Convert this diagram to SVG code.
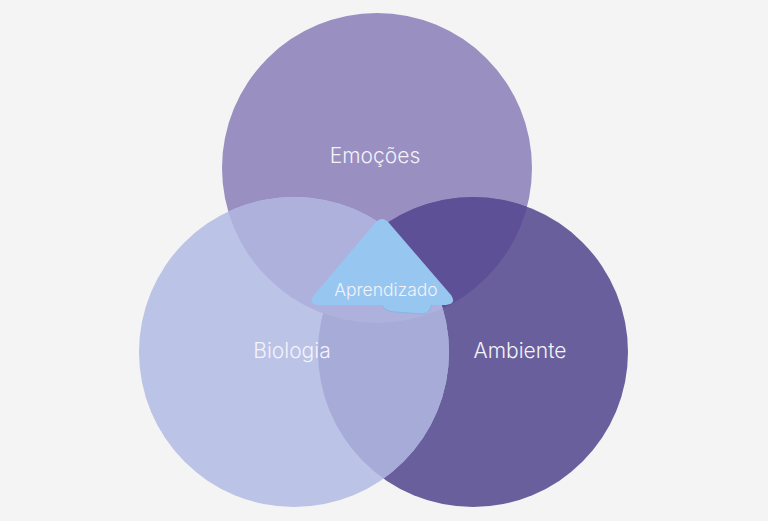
<svg xmlns="http://www.w3.org/2000/svg" width="768" height="521" viewBox="0 0 768 521">
  <defs>
    <clipPath id="clipT"><circle cx="377" cy="168" r="155"/></clipPath>
    <clipPath id="clipR"><circle cx="473" cy="352" r="155"/></clipPath>
    <style>
      .lbl { font-family: Inter, "Liberation Sans", sans-serif; font-weight: 300; fill: #f3f3f9; text-anchor: middle; }
    </style>
  </defs>
  <rect width="768" height="521" fill="#f4f4f4"/>
  <g id="emocoes">
    <circle cx="377" cy="168" r="155" fill="#9a8fc1"/>
  </g>
  <g id="ambiente">
    <circle cx="473" cy="352" r="155" fill="#6a5f9d"/>
  </g>
  <g id="biologia">
    <circle cx="294" cy="352" r="155" fill="#bbc3e6"/>
  </g>
  <g id="overlaps">
    <circle cx="473" cy="352" r="155" fill="#5e5096" clip-path="url(#clipT)"/>
    <circle cx="294" cy="352" r="155" fill="#a7abd8" clip-path="url(#clipR)"/>
    <circle cx="294" cy="352" r="155" fill="#aeb1dc" clip-path="url(#clipT)"/>
  </g>
  <g id="aprendizado">
    <path d="M 381,304 Q 385,312 396,312 L 423,314 Q 429,314 432,304 Z" fill="#97c6f1" stroke="#86b0df" stroke-width="0.8"/>
    <path d="M 375,223 Q 382,215 389,223 L 451,295 Q 457,304 446,305 L 318,305 Q 307,304 314,295 Z" fill="#97c6f1"/>
  </g>
  <text class="lbl" x="375" y="163" font-size="21">Emoções</text>
  <text class="lbl" x="292" y="358" font-size="21">Biologia</text>
  <text class="lbl" x="520" y="358" font-size="21">Ambiente</text>
  <text class="lbl" x="386" y="296" font-size="17.5">Aprendizado</text>
</svg>
